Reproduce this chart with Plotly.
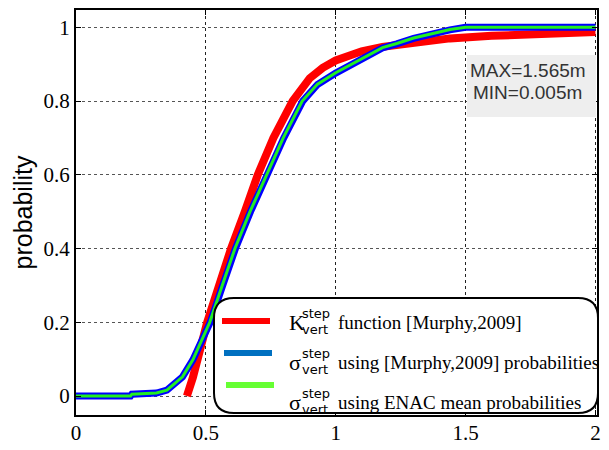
import plotly.graph_objects as go

# K_vert^step function [Murphy,2009]
red_x = [0.427, 0.45, 0.505, 0.55, 0.597, 0.65, 0.70, 0.76, 0.834, 0.90, 0.95, 1.0, 1.1, 1.18, 1.3, 1.44, 1.6, 1.8, 2.0]
red_y = [0.0, 0.05, 0.2, 0.3, 0.4, 0.5, 0.6, 0.7, 0.8, 0.862, 0.89, 0.91, 0.935, 0.947, 0.96, 0.97, 0.977, 0.983, 0.987]

# sigma_vert^step using [Murphy,2009] probabilities
blue_x = [0.0, 0.21, 0.215, 0.31, 0.35, 0.387, 0.41, 0.45, 0.489, 0.517, 0.565, 0.614, 0.672, 0.735,
          0.80, 0.873, 0.93, 1.0, 1.1, 1.18, 1.235, 1.3, 1.44, 1.5, 2.0]
blue_y = [0.0, 0.0, 0.005, 0.008, 0.016, 0.039, 0.052, 0.098, 0.16, 0.2, 0.3, 0.4, 0.5, 0.6,
          0.7, 0.8, 0.845, 0.876, 0.915, 0.944, 0.955, 0.97, 0.993, 1.0, 1.0]

# sigma_vert^step using ENAC mean probabilities
green_x = [0.0, 0.21, 0.215, 0.31, 0.35, 0.387, 0.41, 0.45, 0.489, 0.515, 0.563, 0.612, 0.670, 0.733,
           0.798, 0.871, 0.93, 1.0, 1.1, 1.18, 1.235, 1.3, 1.44, 1.5, 2.0]
green_y = [0.0, 0.0, 0.005, 0.008, 0.016, 0.039, 0.052, 0.098, 0.16, 0.2, 0.3, 0.4, 0.5, 0.6,
           0.7, 0.8, 0.846, 0.877, 0.916, 0.945, 0.956, 0.971, 0.994, 1.0, 1.0]

x_ticks = [0, 0.5, 1, 1.5, 2]
x_labels = ["0", "0.5", "1", "1.5", "2"]
y_ticks = [0, 0.2, 0.4, 0.6, 0.8, 1]
y_labels = ["0", "0.2", "0.4", "0.6", "0.8", "1"]

legend_colors = ["#ff0000", "#0070c0", "#66ff33"]
legend_sym = ["K", "σ", "σ"]
legend_text = ["function [Murphy,2009]", "using [Murphy,2009] probabilities", "using ENAC mean probabilities"]

# the page body has an 8px margin, so the figure is shifted by 8px
OFF = 8
W, H = 609 - OFF, 450 - OFF
L, T = 76 - OFF, 10 - OFF
pw, ph = 521, 405
R, B = W - L - pw, H - T - ph


def px(x):
    # screen pixel -> paper coordinate
    return (x - OFF - L) / pw


def py(y):
    return (H - B - (y - OFF)) / ph


fig = go.Figure()
fig.add_trace(go.Scatter(x=red_x, y=red_y, mode="lines", line=dict(color="#ff0000", width=8)))
fig.add_trace(go.Scatter(x=blue_x, y=blue_y, mode="lines", line=dict(color="#0000ff", width=7)))
fig.add_trace(go.Scatter(x=green_x, y=green_y, mode="lines", line=dict(color="#22ee22", width=3)))

serif = "Liberation Serif"
sans = "Liberation Sans"

shapes = []
annotations = []

# MAX / MIN box
shapes.append(dict(type="rect", xref="paper", yref="paper", x0=px(467), x1=px(596), y0=py(117), y1=py(55),
                   fillcolor="#eeeeee", line=dict(width=0), layer="above"))
for txt, yy in [("MAX=1.565m", 70), ("MIN=0.005m", 92)]:
    annotations.append(dict(xref="paper", yref="paper", x=px(527.5), y=py(yy), text=txt, showarrow=False,
                            xanchor="center", yanchor="middle", font=dict(family=sans, size=19, color="#333")))

# rounded legend box
x0, x1, y0, y1 = px(214), px(598), py(413), py(298)
rx, ry = 20 / pw, 20 / ph
path = (f"M {x0+rx},{y0} L {x1-rx},{y0} Q {x1},{y0} {x1},{y0+ry} L {x1},{y1-ry} Q {x1},{y1} {x1-rx},{y1} "
        f"L {x0+rx},{y1} Q {x0},{y1} {x0},{y1-ry} L {x0},{y0+ry} Q {x0},{y0} {x0+rx},{y0} Z")
shapes.append(dict(type="path", xref="paper", yref="paper", path=path, fillcolor="white",
                   line=dict(color="black", width=2), layer="above"))

line_y = [321, 353, 385]
text_y = [322, 362, 402]
for i in range(3):
    shapes.append(dict(type="line", xref="paper", yref="paper", x0=px(222 + i * 2), x1=px(270 + i * 2),
                       y0=py(line_y[i]), y1=py(line_y[i]), line=dict(color=legend_colors[i], width=6),
                       layer="above"))
    annotations.append(dict(xref="paper", yref="paper", x=px(287), y=py(text_y[i]), text=legend_sym[i],
                            showarrow=False, xanchor="left", yanchor="middle",
                            font=dict(family=serif, size=22, color="black")))
    annotations.append(dict(xref="paper", yref="paper", x=px(300), y=py(text_y[i] - 9), text="step",
                            showarrow=False, xanchor="left", yanchor="middle",
                            font=dict(family="DejaVu Sans", size=13, color="black")))
    annotations.append(dict(xref="paper", yref="paper", x=px(300), y=py(text_y[i] + 7), text="vert",
                            showarrow=False, xanchor="left", yanchor="middle",
                            font=dict(family="DejaVu Sans", size=13, color="black")))
    annotations.append(dict(xref="paper", yref="paper", x=px(336), y=py(text_y[i]), text=legend_text[i],
                            showarrow=False, xanchor="left", yanchor="middle",
                            font=dict(family=serif, size=19, color="black")))

fig.update_layout(
    width=W, height=H,
    margin=dict(l=L, r=R, t=T, b=B),
    paper_bgcolor="white", plot_bgcolor="white",
    showlegend=False,
    shapes=shapes, annotations=annotations,
)
fig.update_xaxes(range=[0, 2.006], tickvals=x_ticks, ticktext=x_labels, automargin=False,
                 showgrid=True, gridcolor="#222", griddash="dot", gridwidth=1, zeroline=False,
                 showline=True, linecolor="black", linewidth=2, mirror="ticks",
                 ticks="inside", ticklen=5, tickcolor="black", ticklabelstandoff=-2,
                 tickfont=dict(family=serif, size=21, color="black"))
fig.update_yaxes(range=[-0.0515, 1.047], tickvals=y_ticks, ticktext=y_labels, automargin=False,
                 showgrid=True, gridcolor="#555", griddash="dot", gridwidth=1, zeroline=False,
                 showline=True, linecolor="black", linewidth=2, mirror="ticks",
                 ticks="inside", ticklen=5, tickcolor="black",
                 tickfont=dict(family=serif, size=21, color="black"),
                 title=dict(text="probability", font=dict(family=sans, size=25, color="black"), standoff=4))

fig.write_html("out.html")
